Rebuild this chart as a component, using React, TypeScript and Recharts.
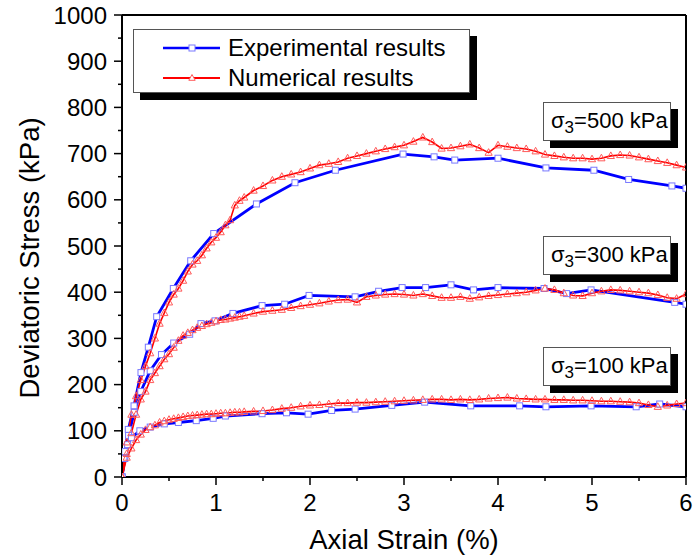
import React from "react"
import { LineChart, Line, XAxis, YAxis } from "recharts"

// tick values
const strainTicks = [0, 0.5, 1, 1.5, 2, 2.5, 3, 3.5, 4, 4.5, 5, 5.5, 6]
const stressTicks = [0, 50, 100, 150, 200, 250, 300, 350, 400, 450, 500, 550, 600, 650, 700, 750, 800, 850, 900, 950, 1000]

// experimental results (blue squares)
const exp500Strain = [0, 0.03, 0.067, 0.128, 0.202, 0.28, 0.369, 0.546, 0.731, 0.976, 1.43, 1.84, 2.27, 2.99, 3.32, 3.54, 4.0, 4.51, 5.02, 5.39, 5.85, 6.0]
const exp500Stress = [0, 55, 103, 154, 226, 281, 347, 408, 468, 527, 591, 637, 664, 699, 693, 686, 690, 669, 664, 644, 630, 625]

const exp300Strain = [0, 0.03, 0.07, 0.13, 0.2, 0.3, 0.42, 0.55, 0.72, 0.84, 0.99, 1.18, 1.49, 1.73, 1.99, 2.48, 2.73, 2.98, 3.23, 3.5, 3.74, 4.0, 4.49, 4.73, 4.99, 5.88, 6.0]
const exp300Stress = [0, 40, 90, 140, 185, 230, 265, 290, 309, 332, 338, 354, 371, 374, 393, 390, 402, 410, 410, 416, 405, 410, 408, 397, 405, 378, 374]

const exp100Strain = [0, 0.02, 0.06, 0.1, 0.19, 0.3, 0.45, 0.6, 0.79, 0.97, 1.1, 1.49, 1.75, 1.98, 2.23, 2.48, 2.87, 3.22, 3.71, 4.23, 4.51, 4.99, 5.47, 5.72, 6.0]
const exp100Stress = [0, 40, 70, 85, 100, 108, 115, 118, 122, 127, 132, 137, 139, 136, 144, 147, 155, 162, 154, 154, 152, 154, 152, 158, 152]

// numerical results (red triangles)
const numStrain = [
  0, 0.05, 0.1, 0.15, 0.2, 0.25, 0.3, 0.35, 0.4, 0.45, 0.5, 0.55, 0.6, 0.65, 0.7, 0.75, 0.8, 0.85, 0.9, 0.95,
  1.0, 1.05, 1.1, 1.15, 1.2, 1.25, 1.3, 1.4, 1.5, 1.6, 1.7, 1.8, 1.9, 2.0, 2.1, 2.2, 2.3, 2.4, 2.5, 2.6, 2.7,
  2.8, 2.9, 3.0, 3.1, 3.2, 3.3, 3.4, 3.5, 3.6, 3.7, 3.8, 3.9, 4.0, 4.1, 4.2, 4.3, 4.4, 4.5, 4.6, 4.7, 4.8,
  4.9, 5.0, 5.1, 5.2, 5.3, 5.4, 5.5, 5.6, 5.7, 5.8, 5.9, 6.0,
]
const num500Stress = [
  0, 75, 135, 175, 210, 240, 268, 300, 332, 355, 378, 395, 408, 425, 445, 460, 468, 480, 495, 508,
  518, 530, 545, 556, 588, 598, 605, 620, 630, 642, 650, 655, 660, 668, 675, 678, 682, 690, 695, 700, 705,
  710, 714, 718, 726, 735, 725, 711, 712, 716, 720, 712, 702, 718, 715, 712, 710, 705, 698, 695, 692, 690,
  690, 688, 690, 695, 697, 696, 692, 688, 684, 680, 675, 670,
]
const num300Stress = [
  0, 50, 95, 135, 168, 185, 210, 225, 240, 255, 266, 280, 295, 306, 312, 318, 323, 327, 331, 334,
  337, 340, 341, 343, 345, 347, 349, 354, 358, 360, 362, 366, 370, 373, 376, 380, 383, 384, 378, 390, 393,
  395, 396, 395, 393, 396, 392, 388, 388, 390, 386, 389, 392, 394, 396, 398, 400, 404, 408, 405, 398, 393,
  392, 398, 402, 405, 404, 402, 400, 398, 394, 388, 386, 396,
]
const num100Stress = [
  0, 42, 62, 80, 92, 102, 108, 112, 118, 121, 124, 126, 128, 130, 132, 133, 134, 135, 136, 136,
  137, 138, 138, 139, 140, 140, 141, 142, 143, 145, 148, 150, 153, 155, 156, 158, 160, 160, 161, 161, 162,
  163, 164, 165, 166, 167, 168, 168, 167, 168, 167, 168, 170, 171, 172, 170, 169, 168, 168, 167, 167, 166,
  166, 165, 164, 164, 163, 162, 160, 156, 152, 155, 158, 160,
]

const pairs = (xs: number[], ys: number[]) => xs.map((x, i) => ({ strain: x, stress: ys[i] }))

const FONT = "'Liberation Sans', Arial, sans-serif"
const BLUE = "#0000ff"
const RED = "#ff0000"

const Square = (props: any) => {
  const { cx, cy, index } = props
  if (cx == null || cy == null) return <g key={index} />
  return <rect key={index} x={cx - 3} y={cy - 3} width={6} height={6} fill="#fff" stroke="#7878ff" strokeWidth={1} />
}

const Triangle = (props: any) => {
  const { cx, cy, index } = props
  if (cx == null || cy == null) return <g key={index} />
  return (
    <path
      key={index}
      d={`M${cx},${cy - 4} L${cx + 3.6},${cy + 2.6} L${cx - 3.6},${cy + 2.6} Z`}
      fill="none"
      stroke="#ff5a5a"
      strokeWidth={1}
    />
  )
}

const BottomTick = ({ x, y, payload }: any) => {
  const major = Number.isInteger(payload.value)
  return (
    <g>
      <line x1={x} x2={x} y1={y} y2={y + (major ? 8 : 4)} stroke="#000" strokeWidth={1.5} />
      {major && (
        <text x={x} y={y + 34} textAnchor="middle" fontSize={24} fontFamily={FONT} fill="#000">
          {payload.value}
        </text>
      )}
    </g>
  )
}

const LeftTick = ({ x, y, payload }: any) => {
  const major = payload.value % 100 === 0
  return (
    <g>
      <line x1={x - (major ? 8 : 4)} x2={x} y1={y} y2={y} stroke="#000" strokeWidth={1.5} />
      {major && (
        <text x={x - 15} y={y + 8.5} textAnchor="end" fontSize={24} fontFamily={FONT} fill="#000">
          {payload.value}
        </text>
      )}
    </g>
  )
}

const TopTick = ({ x, y }: any) => <line x1={x} x2={x} y1={y} y2={y + 6} stroke="#000" strokeWidth={1.5} />
const RightTick = ({ x, y }: any) => <line x1={x - 6} x2={x} y1={y} y2={y} stroke="#000" strokeWidth={1.5} />

// white box with a solid black drop shadow
const ShadowBox = ({ left, top, width, height, children }: any) => (
  <>
    <div style={{ position: "absolute", left: left + 7, top: top + 7, width, height, background: "#000" }} />
    <div
      style={{
        position: "absolute",
        left,
        top,
        width,
        height,
        background: "#fff",
        border: "1px solid #555",
        boxSizing: "border-box",
        fontFamily: FONT,
        fontSize: 24,
        color: "#000",
      }}
    >
      {children}
    </div>
  </>
)

const PressureBox = ({ top, value }: { top: number; value: number }) => (
  <ShadowBox left={543} top={top} width={128} height={39}>
    <div style={{ fontSize: 22, lineHeight: "36px", paddingLeft: 7, whiteSpace: "nowrap" }}>
      σ<sub style={{ fontSize: 17, verticalAlign: "-5px", lineHeight: 0 }}>3</sub>={value} kPa
    </div>
  </ShadowBox>
)

const LegendRow = ({ color, label, top, marker }: { color: string; label: string; top: number; marker: string }) => (
  <div style={{ position: "absolute", left: 0, top, height: 30, width: 330 }}>
    <svg width={70} height={30} style={{ position: "absolute", left: 28, top: 0 }}>
      <line x1={1} x2={58} y1={15} y2={15} stroke={color} strokeWidth={marker === "square" ? 2.5 : 2} />
      {marker === "square" ? (
        <rect x={27} y={12} width={6} height={6} fill="#fff" stroke="#7878ff" />
      ) : (
        <path d="M30,11.5 L33.2,17.3 L26.8,17.3 Z" fill="#fff" stroke="#ff5a5a" />
      )}
    </svg>
    <span style={{ position: "absolute", left: 94, top: 1, lineHeight: "28px", whiteSpace: "nowrap" }}>{label}</span>
  </div>
)

export default function App() {
  return (
    <div style={{ position: "absolute", left: 0, top: 0, width: 695, height: 558, background: "#fff", fontFamily: FONT }}>
      <LineChart width={695} height={558} margin={{ top: 5, right: 4, bottom: 41, left: 62 }}>
        <XAxis
          type="number"
          dataKey="strain"
          domain={[0, 6]}
          ticks={strainTicks}
          interval={0}
          height={40}
          tickSize={0}
          tickMargin={0}
          tickLine={false}
          tick={BottomTick}
          axisLine={{ stroke: "#000", strokeWidth: 2 }}
          allowDataOverflow
        />
        <XAxis
          xAxisId="top"
          orientation="top"
          type="number"
          domain={[0, 6]}
          ticks={strainTicks}
          interval={0}
          height={10}
          tickSize={0}
          tickMargin={0}
          tickLine={false}
          tick={TopTick}
          axisLine={{ stroke: "#000", strokeWidth: 2 }}
        />
        <YAxis
          type="number"
          domain={[0, 1000]}
          ticks={stressTicks}
          interval={0}
          width={60}
          tickSize={0}
          tickMargin={0}
          tickLine={false}
          tick={LeftTick}
          axisLine={{ stroke: "#000", strokeWidth: 2 }}
          allowDataOverflow
        />
        <YAxis
          yAxisId="right"
          orientation="right"
          type="number"
          domain={[0, 1000]}
          ticks={stressTicks}
          interval={0}
          width={5}
          tickSize={0}
          tickMargin={0}
          tickLine={false}
          tick={RightTick}
          axisLine={{ stroke: "#000", strokeWidth: 2 }}
        />
        {[exp500Stress, exp300Stress, exp100Stress].map((ys, i) => (
          <Line
            key={"exp" + i}
            data={pairs([exp500Strain, exp300Strain, exp100Strain][i], ys)}
            dataKey="stress"
            type="linear"
            stroke={BLUE}
            strokeWidth={2.8}
            dot={Square}
            isAnimationActive={false}
          />
        ))}
        {[num500Stress, num300Stress, num100Stress].map((ys, i) => (
          <Line
            key={"num" + i}
            data={pairs(numStrain, ys)}
            dataKey="stress"
            type="linear"
            stroke={RED}
            strokeWidth={1.6}
            dot={Triangle}
            isAnimationActive={false}
          />
        ))}
      </LineChart>

      {/* axis titles */}
      <div
        style={{
          position: "absolute",
          left: 404,
          top: 540,
          transform: "translate(-50%, -50%)",
          fontSize: 27.5,
          whiteSpace: "nowrap",
        }}
      >
        Axial Strain (%)
      </div>
      <div
        style={{
          position: "absolute",
          left: 30,
          top: 258,
          transform: "translate(-50%, -50%) rotate(-90deg)",
          fontSize: 27.5,
          whiteSpace: "nowrap",
        }}
      >
        Deviatoric Stress (kPa)
      </div>

      {/* legend */}
      <ShadowBox left={133} top={29} width={337} height={64}>
        <LegendRow color={BLUE} marker="square" label="Experimental results" top={3} />
        <LegendRow color={RED} marker="triangle" label="Numerical results" top={33} />
      </ShadowBox>

      <PressureBox top={102} value={500} />
      <PressureBox top={236} value={300} />
      <PressureBox top={347} value={100} />
    </div>
  )
}
